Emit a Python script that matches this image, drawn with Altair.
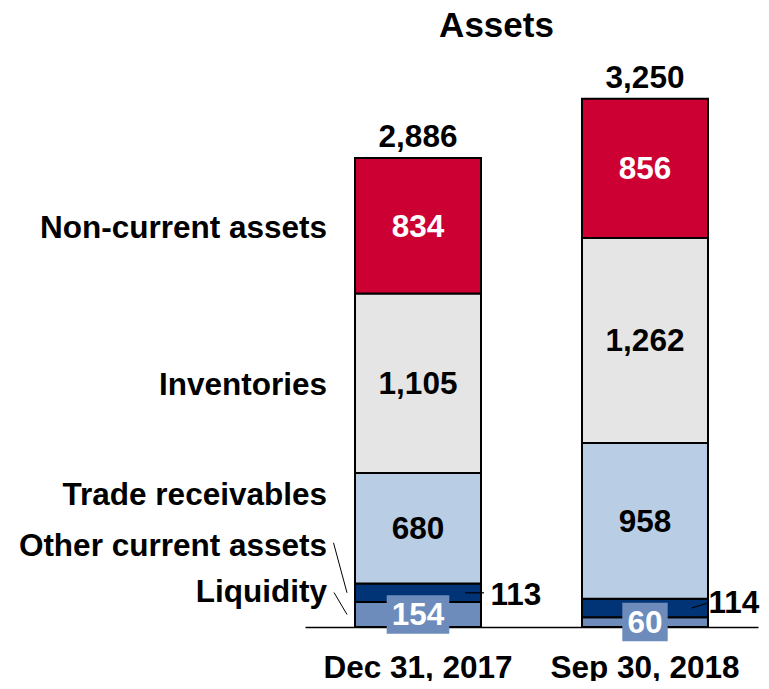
import altair as alt
import pandas as pd

# ---- data ----
dates = ["Dec 31, 2017", "Sep 30, 2018"]
segments = ["Liquidity", "Other current assets", "Trade receivables", "Inventories", "Non-current assets"]
liquidity = [154, 60]
other_current = [113, 114]
trade_receivables = [680, 958]
inventories = [1105, 1262]
non_current = [834, 856]
totals = [2886, 3250]

series = [liquidity, other_current, trade_receivables, inventories, non_current]
seg_colors = ["#6d8cbb", "#003476", "#b9cde4", "#e5e5e5", "#cc0033"]

rows = []
for i, d in enumerate(dates):
    start = 0
    for j, (seg, vals) in enumerate(zip(segments, series)):
        v = vals[i]
        rows.append(dict(date=d, segment=seg, order=j, value=v, start=start,
                         end=start + v, mid=start + v / 2, label=f"{v:,}"))
        start += v
df = pd.DataFrame(rows)
tot_df = pd.DataFrame({"date": dates, "total": totals, "label": [f"{t:,}" for t in totals]})

FONT = "Liberation Sans"
FS = 31.5

xscale = alt.Scale(domain=dates, range=[297, 750], paddingInner=0.4449, paddingOuter=0.2203)
yscale = alt.Scale(domain=[0, 619 / 0.16251], range=[619, 0], nice=False, zero=False)
xaxis = alt.Axis(title=None, labelFont=FONT, labelFontSize=FS, labelFontWeight="bold",
                 labelColor="black", ticks=False, tickSize=0, labelPadding=25, labelLimit=0,
                 domainColor="black", domainWidth=1.5, labelAngle=0)

X = alt.X("date:N", sort=dates, scale=xscale, axis=xaxis)
Xs = alt.X("date:N", sort=dates, title=None)

bars = alt.Chart(df).mark_bar(stroke="black", strokeWidth=2).encode(
    x=X,
    y=alt.Y("start:Q", scale=yscale, axis=None),
    y2="end",
    color=alt.Color("segment:N", scale=alt.Scale(domain=segments, range=seg_colors), legend=None),
)

def txt(data, color, **kw):
    return alt.Chart(data).mark_text(font=FONT, fontSize=FS, fontWeight="bold",
                                     color=color, **kw)

inner_black = txt(df[df.segment.isin(["Trade receivables", "Inventories"])], "black",
                  baseline="middle", dy=2).encode(x=Xs, y=alt.Y("mid:Q"), text="label:N")
inner_white = txt(df[df.segment == "Non-current assets"], "white",
                  baseline="middle", dy=2).encode(x=Xs, y=alt.Y("mid:Q"), text="label:N")

liq = df[df.segment == "Liquidity"].copy()
liq["box"] = [
    f"M{-(len(s) * 17.2 + 11) / 2},-19.25H{(len(s) * 17.2 + 11) / 2}V19.25H{-(len(s) * 17.2 + 11) / 2}Z"
    for s in liq["label"]
]
liq_box = alt.Chart(liq).mark_point(filled=True, opacity=1, strokeWidth=0, color=seg_colors[0]).encode(
    x=Xs, y=alt.Y("mid:Q"), shape=alt.Shape("box:N", scale=None), size=alt.value(4)
)
liq_text = txt(liq, "white", baseline="middle", dy=2).encode(x=Xs, y=alt.Y("mid:Q"), text="label:N")

# outside labels for other current assets
oc = df[df.segment == "Other current assets"]
oc0 = oc[oc.date == dates[0]]
oc1 = oc[oc.date == dates[1]]
oc_t0 = txt(oc0, "black", baseline="middle", align="left", dy=3).encode(
    x=alt.value(482.5), y=alt.Y("mid:Q"), text="label:N")
oc_t1 = txt(oc1, "black", baseline="middle", align="left", dy=-3.5).encode(
    x=alt.value(700.5), y=alt.Y("mid:Q"), text="label:N")
oc_l0 = alt.Chart(oc0).mark_rule(color="black", strokeWidth=1.2).encode(
    x=alt.value(457), x2=alt.value(476), y=alt.Y("mid:Q"), y2="mid")
oc_l1 = alt.Chart(oc1).mark_rule(color="black", strokeWidth=1.2, y2Offset=-5).encode(
    x=alt.value(683.7), x2=alt.value(700), y=alt.Y("mid:Q"), y2="mid")

totals_text = txt(tot_df, "black", baseline="alphabetic", dy=-11).encode(
    x=Xs, y=alt.Y("total:Q"), text="label:N")

# category labels on the left, anchored to the first bar's segments
label_dy = {"Non-current assets": 3, "Inventories": 3, "Trade receivables": -32,
            "Other current assets": -46, "Liquidity": -21}
first = df[df.date == dates[0]]
left_labels = [
    txt(first[first.segment == seg], "black", baseline="middle", align="right", dy=dy).encode(
        x=alt.value(319), y=alt.Y("mid:Q"), text="segment:N")
    for seg, dy in label_dy.items()
]
lead_oc = alt.Chart(first[first.segment == "Other current assets"]).mark_rule(
    color="black", strokeWidth=1, y2Offset=-50).encode(
    x=alt.value(339), x2=alt.value(325.5), y=alt.Y("mid:Q"), y2="mid")
lead_liq = alt.Chart(first[first.segment == "Liquidity"]).mark_rule(
    color="black", strokeWidth=1, y2Offset=-22).encode(
    x=alt.value(339), x2=alt.value(326), y=alt.Y("mid:Q"), y2="mid")

title = alt.Chart(pd.DataFrame({"t": ["Assets"]})).mark_text(
    font=FONT, fontSize=35, fontWeight="bold", color="black", baseline="alphabetic"
).encode(x=alt.value(488.5), y=alt.value(29), text="t:N")

chart = alt.layer(
    bars, inner_black, inner_white, liq_box, liq_text,
    oc_l0, oc_l1, oc_t0, oc_t1, totals_text, *left_labels, lead_oc, lead_liq, title
).properties(
    width=753, height=619,
    autosize=alt.AutoSizeParams(type="none"),
    padding={"left": 0, "top": 0, "right": 0, "bottom": 54},
).configure(background="white").configure_view(stroke=None, strokeWidth=0)

chart.save("out.html", embed_options={"renderer": "svg", "actions": False})
